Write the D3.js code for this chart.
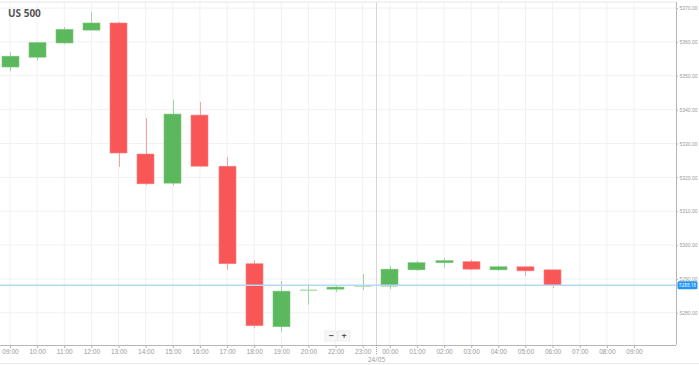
<!DOCTYPE html>
<html>
<head>
<meta charset="utf-8">
<script src="https://cdn.jsdelivr.net/npm/d3@7"></script>
<style>
  body { margin: 0; background: #fff; }
  svg { display: block; font-family: "Open Sans", Roboto, sans-serif; }
</style>
</head>
<body>
<svg id="chart"></svg>
<script>
// Hourly slots (no 21:00 – market break)
const slotLabels = ["09:00","10:00","11:00","12:00","13:00","14:00","15:00","16:00","17:00","18:00","19:00","20:00",
                    "22:00","23:00","00:00","01:00","02:00","03:00","04:00","05:00","06:00","07:00","08:00","09:00"];

// OHLC per slot (first 21 slots have data)
const opens  = [5352.6, 5355.5, 5359.7, 5363.5, 5365.6, 5326.9, 5318.3, 5338.4, 5323.3, 5294.5, 5275.9, 5286.7,
                5287.0, 5287.9, 5287.9, 5292.7, 5294.8, 5295.1, 5292.7, 5293.6, 5292.7];
const highs  = [5357.0, 5360.0, 5364.4, 5368.8, 5365.9, 5337.5, 5342.9, 5342.3, 5326.0, 5295.6, 5289.4, 5288.5,
                5288.2, 5291.5, 5293.9, 5295.4, 5296.2, 5295.7, 5293.9, 5293.6, 5292.7];
const lows   = [5351.4, 5354.6, 5359.4, 5363.3, 5323.1, 5317.7, 5317.5, 5323.2, 5292.7, 5275.6, 5274.4, 5282.4,
                5286.1, 5286.7, 5287.0, 5292.4, 5293.3, 5292.7, 5292.4, 5290.9, 5287.3];
const closes = [5355.8, 5359.8, 5363.7, 5365.6, 5327.2, 5318.1, 5338.7, 5323.3, 5294.5, 5276.2, 5286.4, 5286.7,
                5287.6, 5287.9, 5292.9, 5294.8, 5295.4, 5292.9, 5293.6, 5292.4, 5288.2];

const priceTicks = [5280, 5290, 5300, 5310, 5320, 5330, 5340, 5350, 5360, 5370];
const lastPrice = 5288.18;
const dateLabel = "24/05";
const title = "US 500";

const width = 699, height = 365;
const plot = { left: 0, right: 676, top: 2, bottom: 345 };

const svg = d3.select("#chart").attr("width", width).attr("height", height);

const x = d3.scalePoint()
    .domain(d3.range(slotLabels.length))
    .range([10, 634]);
const y = d3.scaleLinear()
    .domain([5270.5, 5371.8])
    .range([plot.bottom, plot.top]);

const candles = opens.map((o, i) => ({ i, o, h: highs[i], l: lows[i], c: closes[i] }));

// grid
const grid = svg.append("g");
grid.selectAll(".vg").data(x.domain()).enter().append("line")
    .attr("x1", d => x(d)).attr("x2", d => x(d))
    .attr("y1", plot.top).attr("y2", plot.bottom)
    .attr("stroke", "#f1f1f1");
grid.selectAll(".hg").data(priceTicks).enter().append("line")
    .attr("x1", plot.left).attr("x2", plot.right)
    .attr("y1", d => y(d)).attr("y2", d => y(d))
    .attr("stroke", "#f1f1f1");

// top and bottom borders
svg.append("line").attr("x1", 0).attr("x2", plot.right).attr("y1", plot.top).attr("y2", plot.top)
    .attr("stroke", "#e6e6e6");
svg.append("line").attr("x1", 0).attr("x2", width).attr("y1", 363.5).attr("y2", 363.5)
    .attr("stroke", "#eaeaea");

// date separator between 23:00 and 00:00
const sepX = Math.round((x(13) + x(14)) / 2) + 0.5;
svg.append("line")
    .attr("x1", sepX).attr("x2", sepX)
    .attr("y1", plot.top).attr("y2", plot.bottom)
    .attr("stroke", "#d6d6d6");

// candles
const green = "#5cb85c", red = "#f95757";
const greenWick = "#9fd69f", redWick = "#f8a3a3";
const bodyW = 17;
const cg = svg.append("g");

cg.selectAll(".wick").data(candles).enter().append("line")
    .attr("x1", d => Math.round(x(d.i)) + 0.5).attr("x2", d => Math.round(x(d.i)) + 0.5)
    .attr("y1", d => y(d.h)).attr("y2", d => y(d.l))
    .attr("stroke", d => d.c >= d.o ? greenWick : redWick);

cg.selectAll(".body").data(candles.filter(d => d.c !== d.o)).enter().append("rect")
    .attr("x", d => Math.round(x(d.i) - bodyW / 2))
    .attr("width", bodyW)
    .attr("y", d => y(Math.max(d.o, d.c)))
    .attr("height", d => Math.max(1.5, Math.abs(y(d.o) - y(d.c))))
    .attr("fill", d => d.c > d.o ? green : red)
    .attr("stroke", d => d.c > d.o ? "#7cc77c" : "#fb8080")
    .attr("stroke-width", 0.6);

// doji: flat bar in wick colour
cg.selectAll(".doji").data(candles.filter(d => d.c === d.o)).enter().append("line")
    .attr("x1", d => x(d.i) - bodyW / 2).attr("x2", d => x(d.i) + bodyW / 2)
    .attr("y1", d => y(d.o)).attr("y2", d => y(d.o))
    .attr("stroke", greenWick).attr("stroke-width", 1.2);

// last price line
svg.append("line")
    .attr("x1", 0).attr("x2", plot.right)
    .attr("y1", y(lastPrice)).attr("y2", y(lastPrice))
    .attr("stroke", "#b4daf3").attr("stroke-width", 1.5);

// x axis
const xAxis = d3.axisBottom(x).tickSize(3).tickFormat(i => slotLabels[i]);
const gx = svg.append("g")
    .attr("transform", `translate(0,${plot.bottom})`)
    .call(xAxis);
gx.select(".domain").attr("stroke", "#b5b5b5").attr("d", `M0,0.5H${plot.right}`);
gx.selectAll(".tick line").attr("stroke", "#b5b5b5");
gx.selectAll(".tick text").attr("fill", "#999").attr("font-size", 6.5).attr("dy", "0.6em").attr("y", 5);

// date marker
svg.append("line")
    .attr("x1", sepX).attr("x2", sepX)
    .attr("y1", plot.bottom).attr("y2", plot.bottom + 9)
    .attr("stroke", "#999").attr("stroke-dasharray", "1,1");
svg.append("text")
    .attr("x", sepX).attr("y", 362)
    .attr("text-anchor", "middle")
    .attr("fill", "#999").attr("font-size", 6.5)
    .text(dateLabel);

// y axis on the right
const yAxis = d3.axisRight(y).tickValues(priceTicks).tickSize(2).tickFormat(d3.format(".2f"));
const gy = svg.append("g")
    .attr("transform", `translate(${plot.right},0)`)
    .call(yAxis);
gy.select(".domain").attr("stroke", "#b5b5b5").attr("d", `M0.5,${plot.top}V${plot.bottom}`);
gy.selectAll(".tick line").attr("stroke", "#b5b5b5");
gy.selectAll(".tick text").attr("fill", "#999").attr("font-size", 5.2).attr("x", 3.5)
    .attr("textLength", 18).attr("lengthAdjust", "spacingAndGlyphs");

// last price label
const ly = y(lastPrice);
svg.append("rect")
    .attr("x", plot.right + 1.5).attr("y", ly - 4)
    .attr("width", 20).attr("height", 8).attr("rx", 1.5)
    .attr("fill", "#2196f3");
svg.append("text")
    .attr("x", plot.right + 11.5).attr("y", ly)
    .attr("dy", "0.35em").attr("text-anchor", "middle")
    .attr("fill", "#fff").attr("font-size", 5)
    .attr("textLength", 17).attr("lengthAdjust", "spacingAndGlyphs")
    .text(lastPrice.toFixed(2));

// title
svg.append("text")
    .attr("x", 8).attr("y", 17)
    .attr("fill", "#555").attr("font-size", 10).attr("font-weight", "bold")
    .text(title);

// zoom buttons
const btns = svg.append("g").attr("transform", "translate(325,331)");
["−", "+"].forEach((s, k) => {
    btns.append("rect").attr("x", k * 13).attr("y", 0).attr("width", 12).attr("height", 10)
        .attr("fill", "#f7f7f7").attr("stroke", "#e3e3e3").attr("stroke-width", 0.6);
    btns.append("text").attr("x", k * 13 + 6).attr("y", 5).attr("dy", "0.35em")
        .attr("text-anchor", "middle").attr("font-size", 9).attr("font-weight", "bold")
        .attr("fill", "#555").text(s);
});
</script>
</body>
</html>
